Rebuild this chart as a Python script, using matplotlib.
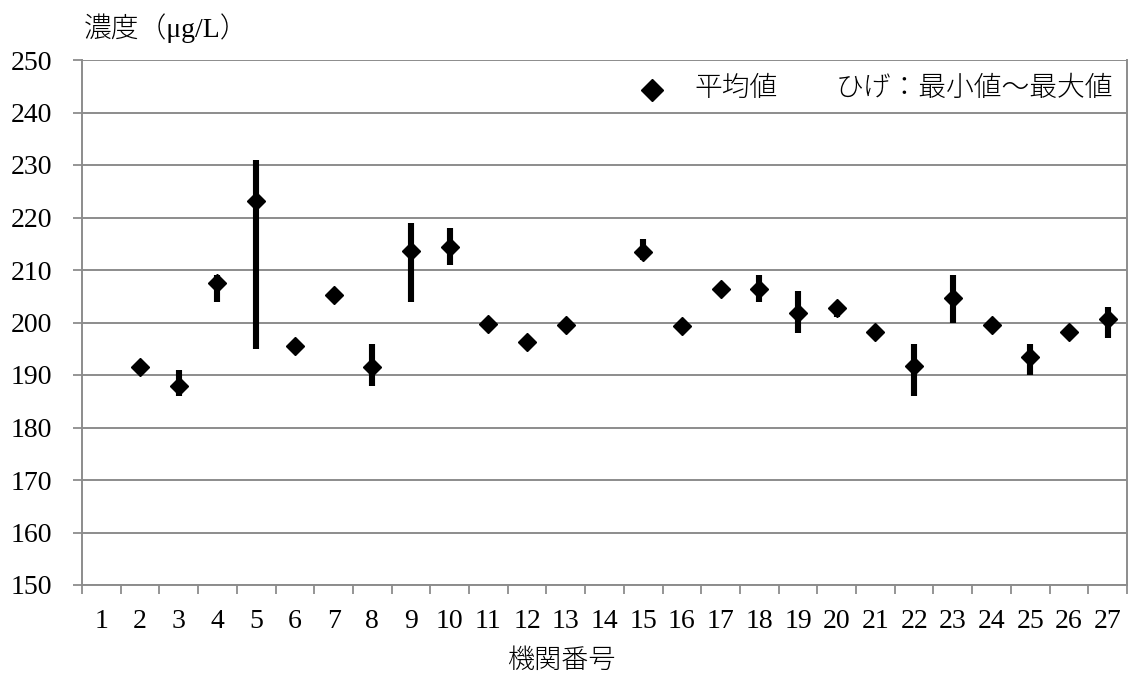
import numpy as np
import matplotlib
matplotlib.use('Agg')
from matplotlib import pyplot as plt

# 機関番号ごとの平均値・最小値・最大値 (µg/L)
kikan = np.arange(1, 28)
heikin = [np.nan, 191.5, 188.0, 207.5, 223.2, 195.6, 205.2, 191.6, 213.6, 214.4,
          199.8, 196.2, 199.6, np.nan, 213.4, 199.3, 206.4, 206.4, 201.9, 202.8,
          198.2, 191.8, 204.6, 199.6, 193.4, 198.2, 200.7]
saishou = [np.nan, 191.2, 186.0, 204.0, 195.0, 195.4, 205.0, 188.0, 204.0, 211.0,
           199.6, 196.0, 199.4, np.nan, 212.0, 199.1, 206.2, 204.0, 198.0, 201.0,
           198.0, 186.0, 200.0, 199.4, 190.0, 198.0, 197.0]
saidai = [np.nan, 191.8, 191.0, 209.0, 231.0, 195.8, 205.4, 196.0, 219.0, 218.0,
          200.0, 196.4, 199.8, np.nan, 216.0, 199.5, 206.6, 209.0, 206.0, 204.0,
          198.4, 196.0, 209.0, 199.8, 196.0, 198.4, 203.0]

serif_jp = ['Liberation Serif', 'Noto Sans CJK JP']
gothic_jp = ['Noto Sans CJK JP', 'Liberation Serif']
gris = '#8c8c8c'

W, H = 1132, 678
fig = plt.figure(figsize=(W / 100, H / 100), dpi=100)
ax = fig.add_axes([82 / W, 1 - 585 / H, (1127 - 82) / W, (585 - 60) / H])

h = np.array(heikin)
lo = np.array(saishou)
hi = np.array(saidai)
ax.vlines(kikan, lo, hi, color='black', lw=4.4, zorder=3)
ax.plot(kikan, h, 'D', color='black', markersize=9, zorder=4, ls='none')

ax.set_xlim(0.5, 27.5)
ax.set_ylim(150, 250)
ax.set_yticks(np.arange(150, 251, 10))
ax.yaxis.grid(True, color=gris, lw=1.4)
ax.set_axisbelow(True)

# 目盛りは区切り位置、ラベルは中央
ax.set_xticks(np.arange(0.5, 28, 1))
ax.set_xticklabels([])
ax.set_xticks(kikan, minor=True)
ax.set_xticklabels([str(k) for k in kikan], minor=True)
ax.tick_params(axis='x', which='major', length=6.5, width=1.3, color=gris, direction='out')
ax.tick_params(axis='x', which='minor', length=0, pad=17)
ax.tick_params(axis='y', length=6.5, width=1.3, color=gris, pad=15)
for lab in ax.get_xticklabels(minor=True) + ax.get_yticklabels():
    lab.set_fontfamily(serif_jp)
    lab.set_fontsize(20)

for s in ['left', 'bottom', 'right']:
    ax.spines[s].set_color(gris)
    ax.spines[s].set_linewidth(1.4)
ax.spines['top'].set_visible(False)

fig.text(84 / W, 1 - 28 / H, '濃度（μg/L）', family=serif_jp,
         fontsize=20, ha='left', va='center', fontweight='light')
fig.text(561 / W, 1 - 660 / H, '機関番号', family=gothic_jp, fontsize=19.5,
         ha='center', va='center', fontweight='light')

# 凡例
ax.plot([652 / W], [1 - 90 / H], 'D', color='black', markersize=11,
        transform=fig.transFigure, clip_on=False)
fig.text(694 / W, 1 - 88 / H, '平均値', family=gothic_jp, fontsize=20, fontweight='light',
         ha='left', va='center')
fig.text(1113 / W, 1 - 88 / H, 'ひげ：最小値～最大値', family=gothic_jp, fontsize=20,
         fontweight='light', ha='right', va='center')

fig.savefig('out.png', dpi=100)
